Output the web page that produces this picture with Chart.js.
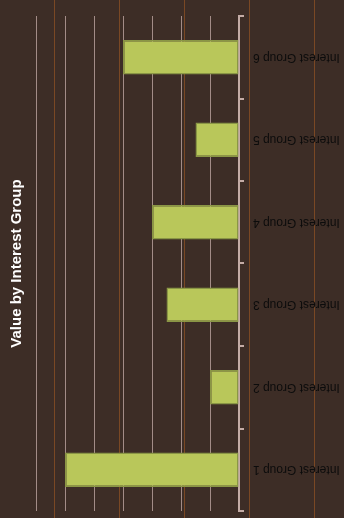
<!DOCTYPE html>
<html>
<head>
<meta charset="utf-8">
<script src="https://cdn.jsdelivr.net/npm/chart.js@4.4.0/dist/chart.umd.min.js"></script>
<style>
  html, body { margin: 0; padding: 0; }
  body {
    width: 344px; height: 518px; overflow: hidden;
    background-color: #3d2d26;
    background-image: repeating-linear-gradient(to right,
      transparent 0px, transparent 54px,
      #7a4824 54px, #7a4824 55px,
      transparent 55px, transparent 65px);
  }
  #wrap { position: absolute; left: 0; top: 0; width: 344px; height: 518px; }
</style>
</head>
<body>
<div id="wrap"><canvas id="c" width="344" height="518"></canvas></div>
<script>
const categories = ["Interest Group 1", "Interest Group 2", "Interest Group 3", "Interest Group 4", "Interest Group 5", "Interest Group 6"];
const values = [6, 1, 2.5, 3, 1.5, 4];
const valueMin = 0;
const valueMax = 7;
const valueStep = 1;
const chartTitle = "Value by Interest Group";

const FONT = "'Liberation Sans', Arial, Helvetica, sans-serif";

new Chart(document.getElementById('c'), {
  type: 'bar',
  data: {
    labels: categories,
    datasets: [{
      data: values,
      backgroundColor: '#b9c75a',
      borderColor: '#8a9645',
      borderWidth: 1.5,
      borderSkipped: false,
      barPercentage: 0.42,
      categoryPercentage: 1
    }]
  },
  options: {
    indexAxis: 'y',
    responsive: false,
    animation: false,
    devicePixelRatio: 1,
    layout: { padding: { top: 16, bottom: 7, left: 0, right: 0 } },
    plugins: {
      legend: { display: false },
      tooltip: { enabled: false },
      title: {
        display: true,
        text: chartTitle,
        position: 'left',
        color: '#ffffff',
        font: { family: FONT, size: 15, weight: 'bold', lineHeight: 1.2 },
        padding: { top: 7.5, bottom: 10.5 }
      }
    },
    scales: {
      x: {
        type: 'linear',
        position: 'bottom',
        reverse: true,
        min: valueMin,
        max: valueMax,
        ticks: { display: false, stepSize: valueStep },
        grid: { color: '#a38c87', lineWidth: 1, drawTicks: false },
        border: { display: false },
        afterFit: (scale) => { scale.height = 0; scale.paddingLeft = 0; scale.paddingRight = 0; }
      },
      y: {
        type: 'category',
        position: 'right',
        reverse: true,
        offset: true,
        grid: {
          offset: true,
          drawOnChartArea: false,
          drawTicks: true,
          tickLength: 5,
          color: '#c4aca6',
          lineWidth: 2
        },
        border: { display: true, color: '#c4aca6', width: 2 },
        ticks: {
          autoSkip: false,
          minRotation: 180,
          maxRotation: 180,
          crossAlign: 'center',
          padding: 9,
          color: '#0c0c0c',
          font: { family: FONT, size: 12 }
        },
        afterFit: (scale) => { scale.width = 105; scale.paddingTop = 0; scale.paddingBottom = 0; }
      }
    }
  }
});
</script>
</body>
</html>
